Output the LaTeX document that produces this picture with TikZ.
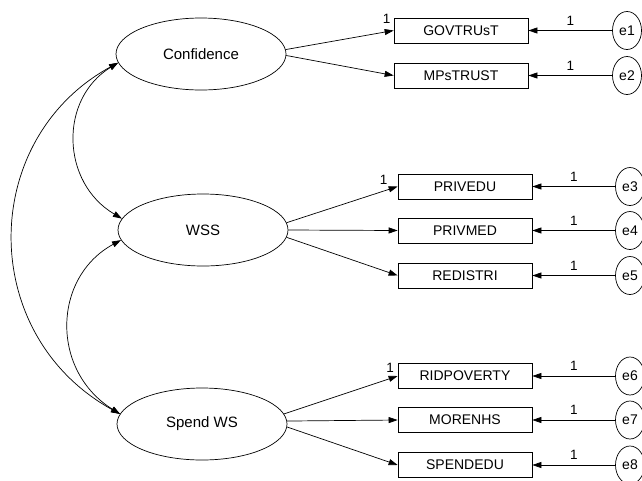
\documentclass[tikz,border=0pt]{standalone}
\usepackage{fontspec}
\setmainfont{Liberation Sans}
\usetikzlibrary{arrows.meta,shapes.geometric}

\begin{document}
\begin{tikzpicture}[x=1pt,y=-1pt,
  line width=0.7pt,
  >={Triangle[length=9pt,width=6pt]},
  latent/.style={ellipse,draw,inner sep=0pt,minimum width=170pt,minimum height=72pt,
    font=\fontsize{15}{17}\selectfont},
  observed/.style={rectangle,draw,inner sep=0pt,minimum width=134pt,minimum height=25pt,
    font=\fontsize{14}{16}\selectfont},
  errterm/.style={ellipse,draw,inner sep=0pt,minimum width=29pt,minimum height=38pt,
    font=\fontsize{14}{16}\selectfont},
  weight/.style={inner sep=1pt,font=\fontsize{13.5}{15}\selectfont},
]
\useasboundingbox (0,0) rectangle (642,480);

% latent factors
\node[latent] (conf)  at (201,54)  {Confidence};
\node[latent] (wss)   at (203,230) {WSS};
\node[latent] (spend) at (202,424) {Spend WS};

% observed indicators
\node[observed] (b1) at (461,30.5)  {GOVTRUsT};
\node[observed] (b2) at (461,75.5)  {MPsTRUST};
\node[observed] (b3) at (465,186.5) {PRIVEDU};
\node[observed] (b4) at (465,230.5) {PRIVMED};
\node[observed] (b5) at (465,275.5) {REDISTRI};
\node[observed] (b6) at (465,376)   {RIDPOVERTY};
\node[observed] (b7) at (465,420)   {MORENHS};
\node[observed] (b8) at (465,465)   {SPENDEDU};

% error terms
\node[errterm] (e1) at (627,30.5)  {e1};
\node[errterm] (e2) at (627,75.5)  {e2};
\node[errterm] (e3) at (630,186.5) {e3};
\node[errterm] (e4) at (630,230.5) {e4};
\node[errterm] (e5) at (630,275.5) {e5};
\node[errterm] (e6) at (630,376)   {e6};
\node[errterm] (e7) at (630,420)   {e7};
\node[errterm] (e8) at (630,465)   {e8};

% factor loadings
\draw[->] (conf.3.5) -- (b1.west);
\draw[->] (conf.-1)  -- (b2.west);
\draw[->] (wss.5)    -- (b3.west);
\draw[->] (wss.east) -- (b4.west);
\draw[->] (wss.-5)   -- (b5.west);
\draw[->] (spend.7)  -- (b6.west);
\draw[->] (spend.2)  -- (b7.west);
\draw[->] (spend.-2) -- (b8.west);

% fixed loadings
\node[weight] (w1) at ([shift={(-7,-11.5)}]b1.west) {1};
\node[weight] (w3) at ([shift={(-14,-6.5)}]b3.west) {1};
\node[weight] (w6) at ([shift={(-7.5,-8)}]b6.west)  {1};

% error paths
\foreach \i in {1,...,8}
  \draw[->] (e\i) -- node[weight,above=4pt] {1} (b\i);

% factor covariances
\draw[<->] (conf.186) .. controls (58.8,99) and (60.8,182.5) .. (wss.172);
\draw[<->] (wss.187) .. controls (52.4,277.3) and (50.4,370.6) .. (spend.173);
\draw[<->] (conf.186) .. controls (-21.7,139.3) and (-23,335) .. (spend.173);
\end{tikzpicture}
\end{document}
